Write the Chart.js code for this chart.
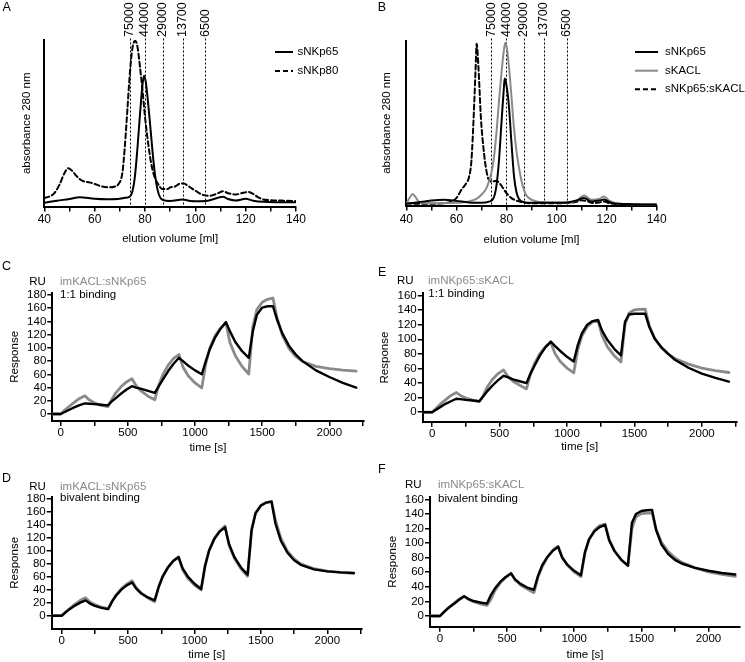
<!DOCTYPE html>
<html>
<head>
<meta charset="utf-8">
<script src="https://cdn.jsdelivr.net/npm/chart.js@4.4.1/dist/chart.umd.min.js"></script>
<style>
  html, body { margin: 0; padding: 0; background: #fff; }
  #fig { position: relative; width: 745px; height: 662px; overflow: hidden; }
  canvas { position: absolute; }
</style>
</head>
<body>
<div id="fig">
  <canvas id="panelA" width="372" height="250" style="left:0;top:0"></canvas>
  <canvas id="panelB" width="373" height="250" style="left:372px;top:0"></canvas>
  <canvas id="panelC" width="372" height="205" style="left:0;top:250px"></canvas>
  <canvas id="panelE" width="373" height="205" style="left:372px;top:250px"></canvas>
  <canvas id="panelD" width="372" height="207" style="left:0;top:455px"></canvas>
  <canvas id="panelF" width="373" height="207" style="left:372px;top:455px"></canvas>
</div>
<script>
// ---- gel filtration (A, B): elution volume [ml] vs. absorbance (relative) ----
const mwLabels = ['75000', '44000', '29000', '13700', '6500'];
const mwVolumes = [74, 80, 87, 95, 104];
const volTicks = [40, 50, 60, 70, 80, 90, 100, 110, 120, 130, 140];
const volLabels = [40, 60, 80, 100, 120, 140];

const volA65 = [40, 45, 50, 54, 60, 65, 70, 72, 74, 75, 76, 77, 78, 79, 79.6, 80.3, 81, 82, 83, 84,
  85, 86, 87, 90, 95, 98, 100, 105, 111, 113, 116, 120, 123, 127, 132, 140];
const absA65 = [2.2, 3.5, 4.5, 5.6, 4.6, 4.3, 4.6, 5.2, 6, 9, 18, 35, 55, 73, 78.5, 75, 66, 50, 33, 19,
  10, 5.5, 4, 3.3, 4.2, 3.3, 3.2, 3.5, 5.8, 4.5, 3.6, 4.6, 3.5, 2.8, 2.6, 2.6];

const volA80 = [40, 42, 44, 46, 48, 49.5, 51, 53, 55, 58, 60, 63, 66, 68, 69.5, 71, 72, 73, 74, 75,
  76.1, 77, 78, 79, 80, 81, 82, 83, 84, 85, 87, 89, 90, 92, 94, 95.5, 97, 100, 103, 106,
  109, 111, 113, 116, 119, 121, 123, 125, 127, 130, 135, 140];
const absA80 = [5.2, 6, 8, 13, 20, 23, 21.5, 18, 15.5, 14.5, 13.5, 12, 11.5, 12, 13.5, 20, 36, 58, 80, 95,
  99.5, 96, 84, 70, 54, 41, 30, 22, 17, 14, 10.5, 10.5, 11.5, 12, 13.8, 13.8, 12.5, 9.5, 7, 6.5,
  8, 9.2, 8, 7.2, 8.2, 8.8, 7.5, 5.5, 4.2, 3.8, 3.5, 3.3];

const volB65 = [40, 45, 50, 55, 60, 65, 70, 73, 75, 76, 77, 78, 79, 79.3, 80, 81, 82, 83, 84, 85,
  87, 90, 100, 105, 108, 111, 114, 117, 119, 122, 130, 140];
const absB65 = [1, 2, 3, 3.5, 2.8, 1.8, 1.6, 2.3, 5, 12, 27, 50, 72, 77, 73, 60, 38, 18, 8, 4,
  2, 1.6, 1.6, 2, 3, 4.5, 2.4, 3, 3.6, 1.5, 0.8, 0.6];

const volBKacl = [40, 41.5, 42.5, 43.5, 45, 48, 55, 60, 65, 68, 70, 72, 73, 74, 75, 76, 77, 78, 78.8, 79.5,
  80.2, 81, 82, 83, 84, 85, 86, 87, 88, 89, 92, 100, 105, 108, 111, 114, 117, 119, 121, 125, 130, 140];
const absBKacl = [1.4, 5, 7, 5.5, 2.4, 1.5, 1.4, 1.6, 2.4, 4, 6.5, 10.5, 14.6, 20, 29, 44, 63, 80, 92, 98.6,
  95, 84, 66, 47, 33, 23, 15, 9.5, 6, 4.5, 2.4, 1.8, 1.8, 3, 6, 3.5, 4, 5.5, 3, 1, 0.7, 0.6];

const volBComplex = [40, 45, 50, 55, 58, 60, 62, 64, 65, 66, 67, 67.7, 68.1, 68.8, 69.8, 70.8, 72, 73, 74.2, 76,
  77.5, 80, 82, 85, 90, 100, 105, 108, 110, 112, 115, 117, 119, 121, 125, 140];
const absBComplex = [1.4, 1, 1, 1.4, 2.4, 4.5, 9.5, 13.6, 17, 27, 57, 84, 98, 84, 53, 35, 21, 15.5, 14.5, 15,
  13, 7.5, 4.5, 2.5, 1.4, 1.4, 1.6, 2.2, 3.2, 2.7, 1.5, 1.8, 2.4, 1.4, 0.8, 0.4];

// ---- SPR sensorgrams (C-F): time [s] vs response [RU] ----
const sprTime = [
  -70, 0, 30, 60, 100, 140, 180,
  210, 250, 300, 350,
  380, 410, 450, 490, 530,
  560, 600, 650, 700,
  730, 760, 800, 840, 880,
  910, 950, 1000, 1050,
  1080, 1110, 1150, 1190, 1230,
  1260, 1300, 1350, 1400,
  1430, 1460, 1500, 1540, 1580,
  1610, 1650, 1700, 1750, 1800, 1900, 2000, 2100, 2200
];
const sprTimeTicks = [0, 250, 500, 750, 1000, 1250, 1500, 1750, 2000, 2250];
const sprTimeLabels = [0, 500, 1000, 1500, 2000];
const respTicks180 = [0, 20, 40, 60, 80, 100, 120, 140, 160, 180];
const respTicks160 = [0, 20, 40, 60, 80, 100, 120, 140, 160];

// measured: immobilised KACL, soluble NKp65
const kaclNkp65Data = [
  0, 0, 6, 11, 17.5, 23.5, 27.5,
  21.5, 17, 13, 11,
  22, 32, 41.5, 48.5, 53.5,
  43, 34.5, 27, 21.5,
  44, 59.5, 74, 84, 90,
  71, 57.5, 47, 39.5,
  76, 100, 118.5, 130, 137.5,
  108, 88, 72, 60.5,
  132, 158, 169, 173.5, 175.5,
  146, 119, 99, 87, 79.5, 72, 68.5, 66.5, 65
];
const kaclNkp65Fit11 = [
  0, 0, 3, 6, 10, 13.5, 16,
  15.5, 15, 14, 13,
  19, 24, 31, 37, 42,
  40, 38, 35, 32,
  42, 52, 65, 76, 85,
  80, 73, 66, 60,
  80, 98, 116, 129, 139,
  125, 109, 95, 85,
  125, 150, 161, 163, 163,
  143, 122, 103, 90, 80, 66, 56, 47, 40
];
const kaclNkp65FitBiv = [
  0, 0, 5, 10, 15.5, 20, 23.5,
  19, 15, 12, 10,
  22, 31, 40, 46.5, 51,
  42, 34, 28, 23.5,
  44, 60, 74, 84, 90,
  73, 60, 49, 41,
  77, 100, 118, 129, 135.5,
  110, 90, 74, 63,
  131, 157, 169, 173.5, 175,
  141, 115, 96.5, 85, 78, 71, 68, 66.5, 65.5
];

// measured: immobilised NKp65, soluble KACL
const nkp65KaclData = [
  0, 0, 5.5, 11, 17, 23, 27,
  23, 19.5, 16.5, 14.5,
  23, 35, 45.5, 53, 58,
  49.5, 42.5, 37, 32,
  53, 67, 80.5, 90, 95.5,
  81, 69.5, 60.5, 54,
  86, 104.5, 117.5, 124, 126,
  105, 89.5, 77.5, 69,
  120, 136, 140.5, 141, 141.5,
  119, 101, 88.5, 80, 73.5, 66, 60.5, 57, 54.5
];
const nkp65KaclFit11 = [
  0, 0, 3.5, 7, 11.5, 15, 18.5,
  18, 17, 16, 15,
  22, 29, 37, 44, 50,
  48, 45, 42.5, 40,
  53, 64, 78, 89, 97,
  91, 84, 76, 69.5,
  92, 108, 120, 125, 126.5,
  112, 99, 87, 78,
  124, 134, 135, 135, 135,
  117, 101, 89, 80, 72, 61, 53, 47, 42
];
const nkp65KaclFitBiv = [
  0, 0, 5.5, 10.5, 16, 22, 27,
  23.5, 20.5, 18.5, 17,
  29, 38, 47, 53.5, 58.5,
  50, 44, 39, 36,
  55, 69, 81, 89.5, 95,
  80, 70, 62, 56,
  88, 105, 116, 122, 125,
  104, 89, 77, 69,
  128, 140, 144, 145, 145.5,
  118, 98, 85, 77, 72, 66, 62, 59, 57
];

const FONT_FAMILY = '"Liberation Sans", Arial, Helvetica, sans-serif';
const GRAY = '#8a8a8a';
Chart.defaults.font.family = FONT_FAMILY;
Chart.defaults.color = '#000';

const pts = (xs, ys) => xs.map((x, i) => ({ x: x, y: ys[i] }));

// texts, legend and MW markers drawn on top of a panel
function annotatePlugin(cfg) {
  return {
    id: 'annotate',
    beforeDatasetsDraw(chart) {
      if (!cfg.markers) return;
      const ctx = chart.ctx;
      const xs = chart.scales.x;
      ctx.save();
      ctx.strokeStyle = '#000';
      ctx.lineWidth = 1;
      ctx.setLineDash([2, 2]);
      cfg.markers.values.forEach(v => {
        const px = Math.round(xs.getPixelForValue(v)) + 0.5;
        ctx.beginPath();
        ctx.moveTo(px, cfg.markers.top);
        ctx.lineTo(px, chart.chartArea.bottom);
        ctx.stroke();
      });
      ctx.restore();
    },
    afterDraw(chart) {
      const ctx = chart.ctx;
      ctx.save();
      ctx.textAlign = 'left';
      ctx.textBaseline = 'middle';
      if (cfg.markers) {
        const xs = chart.scales.x;
        ctx.font = '12.5px ' + FONT_FAMILY;
        ctx.fillStyle = '#000';
        cfg.markers.labels.forEach((t, i) => {
          ctx.save();
          ctx.translate(xs.getPixelForValue(cfg.markers.values[i]), cfg.markers.labelY);
          ctx.rotate(-Math.PI / 2);
          ctx.fillText(t, 0, 0);
          ctx.restore();
        });
      }
      if (cfg.legend) {
        const lg = cfg.legend;
        ctx.font = '11.5px ' + FONT_FAMILY;
        lg.rows.forEach((y, i) => {
          const ds = chart.data.datasets[i];
          ctx.strokeStyle = ds.borderColor;
          ctx.lineWidth = ds.borderWidth;
          ctx.setLineDash(ds.borderDash || []);
          ctx.beginPath();
          ctx.moveTo(lg.x1, y);
          ctx.lineTo(lg.x2, y);
          ctx.stroke();
          ctx.setLineDash([]);
          ctx.fillStyle = '#000';
          ctx.fillText(ds.label, lg.tx, y);
        });
      }
      (cfg.texts || []).forEach(t => {
        ctx.font = (t.size || 11.5) + 'px ' + FONT_FAMILY;
        ctx.fillStyle = t.c || '#000';
        ctx.fillText(t.t, t.x, t.y);
      });
      ctx.restore();
    }
  };
}

function baseOptions(geo) {
  return {
    responsive: false,
    devicePixelRatio: 1,
    animation: false,
    events: [],
    layout: { padding: geo.pad },
    elements: {
      point: { radius: 0 },
      line: { borderJoinStyle: 'round', borderCapStyle: 'round' }
    },
    plugins: { legend: { display: false }, tooltip: { enabled: false } }
  };
}

const axisGrid = { drawOnChartArea: false, drawTicks: true, tickLength: 5, color: '#000', lineWidth: 1.5 };
const axisBorder = { display: true, color: '#000', width: 2 };

function chromPanel(id, geo, datasets, cfg) {
  const opts = baseOptions(geo);
  opts.scales = {
    x: {
      type: 'linear', bounds: 'data', min: 40, max: 140,
      afterBuildTicks: s => { s.ticks = volTicks.map(v => ({ value: v })); },
      afterFit: s => { s.height = geo.xH; },
      ticks: {
        autoSkip: false, maxRotation: 0, color: '#000', padding: geo.tickPad,
        font: { size: 12 },
        callback: v => volLabels.includes(v) ? String(v) : ''
      },
      grid: axisGrid,
      border: axisBorder,
      title: { display: true, text: 'elution volume [ml]', color: '#000', font: { size: 11.5 }, padding: 0 }
    },
    y: {
      type: 'linear', bounds: 'data', min: 0, max: 100,
      afterFit: s => { s.width = geo.yW; },
      ticks: { display: false },
      grid: { display: true, drawOnChartArea: false, drawTicks: false },
      border: axisBorder,
      title: { display: true, text: 'absorbance 280 nm', color: '#000', font: { size: 11.5 }, padding: 0 }
    }
  };
  datasets.forEach(d => {
    d.borderWidth = d.borderWidth || 2;
    d.cubicInterpolationMode = 'monotone';
    d.tension = 0.4;
  });
  return new Chart(document.getElementById(id), {
    type: 'line',
    data: { datasets: datasets },
    options: opts,
    plugins: [annotatePlugin(cfg)]
  });
}

function sprPanel(id, geo, fit, measured, respTicks, cfg) {
  const opts = baseOptions(geo);
  opts.scales = {
    x: {
      type: 'linear', bounds: 'data', min: geo.xMin, max: geo.xMax,
      afterBuildTicks: s => { s.ticks = sprTimeTicks.filter(v => v <= geo.xMax).map(v => ({ value: v })); },
      afterFit: s => { s.height = geo.xH; },
      ticks: {
        autoSkip: false, maxRotation: 0, color: '#000', padding: 0,
        font: { size: 11.5 },
        callback: v => sprTimeLabels.includes(v) ? String(v) : ''
      },
      grid: axisGrid,
      border: axisBorder,
      title: { display: true, text: 'time [s]', color: '#000', font: { size: 11.5 }, padding: 0 }
    },
    y: {
      type: 'linear', bounds: 'data', min: geo.yMin, max: geo.yMax,
      afterBuildTicks: s => { s.ticks = respTicks.map(v => ({ value: v })); },
      afterFit: s => { s.width = geo.yW; },
      ticks: { autoSkip: false, color: '#000', padding: 1, font: { size: 11.5 } },
      grid: axisGrid,
      border: axisBorder,
      title: { display: true, text: 'Response', color: '#000', font: { size: 11.5 }, padding: 0 }
    }
  };
  return new Chart(document.getElementById(id), {
    type: 'line',
    data: {
      datasets: [
        { label: 'fit', data: pts(sprTime, fit), borderColor: '#000', borderWidth: 2.4, tension: 0 },
        { label: 'measured', data: pts(sprTime, measured), borderColor: GRAY, borderWidth: 2.8, tension: 0 }
      ]
    },
    options: opts,
    plugins: [annotatePlugin(cfg)]
  });
}

// ---- panel A ----
chromPanel('panelA',
  { pad: { left: 19.5, top: 40, right: 76, bottom: 3.8 }, yW: 24.8, xH: 39.7, tickPad: 1.3 },
  [
    { label: 'sNKp65', data: pts(volA65, absA65), borderColor: '#000' },
    { label: 'sNKp80', data: pts(volA80, absA80), borderColor: '#000', borderDash: [5, 3] }
  ],
  {
    markers: { values: mwVolumes, labels: mwLabels, top: 38.5, labelY: 37 },
    legend: { x1: 275, x2: 293, tx: 297.5, rows: [52, 71] },
    texts: [{ t: 'A', x: 2.5, y: 7.5, size: 12.5 }]
  });

// ---- panel B ----
chromPanel('panelB',
  { pad: { left: 7.5, top: 40.5, right: 88.3, bottom: 3.5 }, yW: 26.8, xH: 41, tickPad: 2.3 },
  [
    { label: 'sNKp65', data: pts(volB65, absB65), borderColor: '#000' },
    { label: 'sKACL', data: pts(volBKacl, absBKacl), borderColor: GRAY },
    { label: 'sNKp65:sKACL', data: pts(volBComplex, absBComplex), borderColor: '#000', borderDash: [5, 3] }
  ],
  {
    markers: { values: mwVolumes, labels: mwLabels, top: 38.5, labelY: 37 },
    legend: { x1: 263, x2: 286, tx: 293, rows: [52, 70.7, 89.3] },
    texts: [{ t: 'B', x: 5.7, y: 7.5, size: 12.5 }]
  });

// ---- panel C ----
sprPanel('panelC',
  { pad: { left: 8.1, top: 42.7, right: 8.4, bottom: 0.4 }, yW: 44.2, xH: 33.6,
    xMin: -63, xMax: 2255, yMin: -10.6, yMax: 183.5 },
  kaclNkp65Fit11, kaclNkp65Data, respTicks180,
  { texts: [
    { t: 'C', x: 2, y: 16.7, size: 12.5 },
    { t: 'RU', x: 29.3, y: 31.7 },
    { t: 'imKACL:sNKp65', x: 60, y: 31.7, c: GRAY },
    { t: '1:1 binding', x: 60, y: 45 }
  ] });

// ---- panel E ----
sprPanel('panelE',
  { pad: { left: 6.1, top: 43.4, right: 8.3, bottom: 1.4 }, yW: 44.6, xH: 31.9,
    xMin: -69.5, xMax: 2258, yMin: -13, yMax: 163 },
  nkp65KaclFit11, nkp65KaclData, respTicks160,
  { texts: [
    { t: 'E', x: 6, y: 22.7, size: 12.5 },
    { t: 'RU', x: 25, y: 30.8 },
    { t: 'imNKp65:sKACL', x: 56, y: 30.8, c: GRAY },
    { t: '1:1 binding', x: 56.3, y: 44.3 }
  ] });

// ---- panel D ----
sprPanel('panelD',
  { pad: { left: 8.1, top: 41.7, right: 10.3, bottom: 0.1 }, yW: 43.6, xH: 32.9,
    xMin: -75, xMax: 2259, yMin: -20.4, yMax: 182.5 },
  kaclNkp65FitBiv, kaclNkp65Data, respTicks180,
  { texts: [
    { t: 'D', x: 2, y: 24, size: 12.5 },
    { t: 'RU', x: 29.3, y: 31.7 },
    { t: 'imKACL:sNKp65', x: 60, y: 31.7, c: GRAY },
    { t: 'bivalent binding', x: 60, y: 43.3 }
  ] });

// ---- panel F ----
sprPanel('panelF',
  { pad: { left: 14.4, top: 41.8, right: 5, bottom: 0.1 }, yW: 43.6, xH: 35.2,
    xMin: -74.5, xMax: 2235, yMin: -14.7, yMax: 163.5 },
  nkp65KaclFitBiv, nkp65KaclData, respTicks160,
  { texts: [
    { t: 'F', x: 6, y: 15, size: 12.5 },
    { t: 'RU', x: 33, y: 30 },
    { t: 'imNKp65:sKACL', x: 66, y: 30, c: GRAY },
    { t: 'bivalent binding', x: 66, y: 44.3 }
  ] });
</script>
</body>
</html>
